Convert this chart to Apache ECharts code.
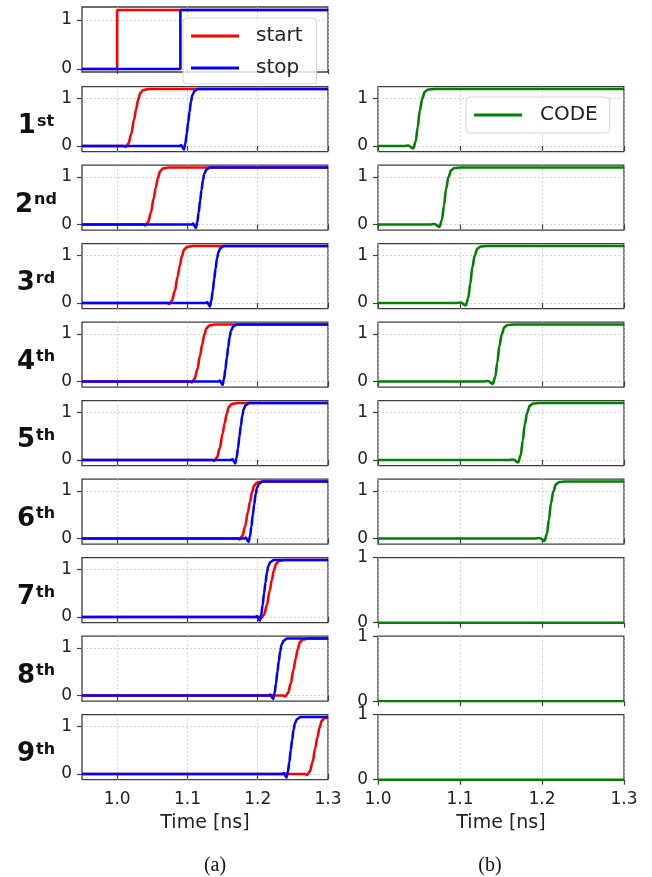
<!DOCTYPE html>
<html>
<head>
<meta charset="utf-8">
<title>Start / stop / CODE waveforms</title>
<script src="https://cdn.jsdelivr.net/npm/echarts@6/dist/echarts.min.js"></script>
<style>
  html, body { margin: 0; padding: 0; background: #fff; }
  #chart { width: 652px; height: 877px; }
</style>
</head>
<body>
<div id="chart"></div>
<script>
// ---- series names and tick labels ----
const startName = 'start';
const stopName = 'stop';
const codeName = 'CODE';
const timeTicks = [1.0, 1.1, 1.2, 1.3];
const levelTicks = [0, 1];
const rowLabels = [['1', 'st'], ['2', 'nd'], ['3', 'rd'], ['4', 'th'], ['5', 'th'],
                   ['6', 'th'], ['7', 'th'], ['8', 'th'], ['9', 'th']];
const xTitle = 'Time [ns]';
const panelTags = ['(a)', '(b)'];

// ---- trigger inputs (top panel), [time ns, V] ----
const triggerStart = [[0.95, 0], [1.0, 0], [1.0, 1.2], [1.3, 1.2]];
const triggerStop = [[0.95, 0], [1.09, 0], [1.09, 1.2], [1.3, 1.2]];

// ---- start edge at each stage ----
const start1 = [[0.95, 0], [1.009, 0], [1.012, -0.02], [1.016, 0.05], [1.020, 0.25], [1.024, 0.55], [1.027, 0.78], [1.030, 0.98], [1.033, 1.12], [1.037, 1.18], [1.045, 1.2], [1.3, 1.2]];
const start2 = [[0.95, 0], [1.037, 0], [1.040, -0.02], [1.044, 0.05], [1.048, 0.25], [1.052, 0.55], [1.055, 0.78], [1.058, 0.98], [1.061, 1.12], [1.065, 1.18], [1.073, 1.2], [1.3, 1.2]];
const start3 = [[0.95, 0], [1.071, 0], [1.074, -0.02], [1.078, 0.05], [1.082, 0.25], [1.086, 0.55], [1.089, 0.78], [1.092, 0.98], [1.095, 1.12], [1.099, 1.18], [1.107, 1.2], [1.3, 1.2]];
const start4 = [[0.95, 0], [1.103, 0], [1.106, -0.02], [1.110, 0.05], [1.114, 0.25], [1.118, 0.55], [1.121, 0.78], [1.124, 0.98], [1.127, 1.12], [1.131, 1.18], [1.139, 1.2], [1.3, 1.2]];
const start5 = [[0.95, 0], [1.135, 0], [1.138, -0.02], [1.142, 0.05], [1.146, 0.25], [1.150, 0.55], [1.153, 0.78], [1.156, 0.98], [1.159, 1.12], [1.163, 1.18], [1.171, 1.2], [1.3, 1.2]];
const start6 = [[0.95, 0], [1.171, 0], [1.174, -0.02], [1.178, 0.05], [1.182, 0.25], [1.186, 0.55], [1.189, 0.78], [1.192, 0.98], [1.195, 1.12], [1.199, 1.18], [1.207, 1.2], [1.3, 1.2]];
const start7 = [[0.95, 0], [1.202, 0], [1.205, -0.02], [1.209, 0.05], [1.213, 0.25], [1.217, 0.55], [1.220, 0.78], [1.223, 0.98], [1.226, 1.12], [1.230, 1.18], [1.238, 1.2], [1.3, 1.2]];
const start8 = [[0.95, 0], [1.236, 0], [1.239, -0.02], [1.243, 0.05], [1.247, 0.25], [1.251, 0.55], [1.254, 0.78], [1.257, 0.98], [1.260, 1.12], [1.264, 1.18], [1.272, 1.2], [1.3, 1.2]];
const start9 = [[0.95, 0], [1.267, 0], [1.270, -0.02], [1.274, 0.05], [1.278, 0.25], [1.282, 0.55], [1.285, 0.78], [1.288, 0.98], [1.291, 1.12], [1.295, 1.18], [1.3, 1.19]];

// ---- stop edge at each stage ----
const stop1 = [[0.95, 0], [1.089, 0], [1.091, 0.02], [1.095, -0.07], [1.097, 0.05], [1.099, 0.25], [1.101, 0.5], [1.103, 0.72], [1.105, 0.93], [1.107, 1.07], [1.110, 1.16], [1.115, 1.2], [1.3, 1.2]];
const stop2 = [[0.95, 0], [1.106, 0], [1.108, 0.02], [1.112, -0.07], [1.114, 0.05], [1.116, 0.25], [1.118, 0.5], [1.120, 0.72], [1.122, 0.93], [1.124, 1.07], [1.127, 1.16], [1.132, 1.2], [1.3, 1.2]];
const stop3 = [[0.95, 0], [1.126, 0], [1.128, 0.02], [1.132, -0.07], [1.134, 0.05], [1.136, 0.25], [1.138, 0.5], [1.140, 0.72], [1.142, 0.93], [1.144, 1.07], [1.147, 1.16], [1.152, 1.2], [1.3, 1.2]];
const stop4 = [[0.95, 0], [1.144, 0], [1.146, 0.02], [1.150, -0.07], [1.152, 0.05], [1.154, 0.25], [1.156, 0.5], [1.158, 0.72], [1.160, 0.93], [1.162, 1.07], [1.165, 1.16], [1.170, 1.2], [1.3, 1.2]];
const stop5 = [[0.95, 0], [1.162, 0], [1.164, 0.02], [1.168, -0.07], [1.170, 0.05], [1.172, 0.25], [1.174, 0.5], [1.176, 0.72], [1.178, 0.93], [1.180, 1.07], [1.183, 1.16], [1.188, 1.2], [1.3, 1.2]];
const stop6 = [[0.95, 0], [1.181, 0], [1.183, 0.02], [1.187, -0.07], [1.189, 0.05], [1.191, 0.25], [1.193, 0.5], [1.195, 0.72], [1.197, 0.93], [1.199, 1.07], [1.202, 1.16], [1.207, 1.2], [1.3, 1.2]];
const stop7 = [[0.95, 0], [1.197, 0], [1.199, 0.02], [1.203, -0.07], [1.205, 0.05], [1.207, 0.25], [1.209, 0.5], [1.211, 0.72], [1.213, 0.93], [1.215, 1.07], [1.218, 1.16], [1.223, 1.2], [1.3, 1.2]];
const stop8 = [[0.95, 0], [1.216, 0], [1.218, 0.02], [1.222, -0.07], [1.224, 0.05], [1.226, 0.25], [1.228, 0.5], [1.230, 0.72], [1.232, 0.93], [1.234, 1.07], [1.237, 1.16], [1.242, 1.2], [1.3, 1.2]];
const stop9 = [[0.95, 0], [1.235, 0], [1.237, 0.02], [1.241, -0.07], [1.243, 0.05], [1.245, 0.25], [1.247, 0.5], [1.249, 0.72], [1.251, 0.93], [1.253, 1.07], [1.256, 1.16], [1.261, 1.2], [1.3, 1.2]];

// ---- CODE output at each stage ----
const code1 = [[1.0, 0], [1.031, 0], [1.037, 0.01], [1.043, -0.05], [1.046, 0.1], [1.0485, 0.4], [1.051, 0.75], [1.054, 1.0], [1.057, 1.14], [1.061, 1.19], [1.069, 1.2], [1.3, 1.2]];
const code2 = [[1.0, 0], [1.063, 0], [1.069, 0.01], [1.075, -0.05], [1.078, 0.1], [1.0805, 0.4], [1.083, 0.75], [1.086, 1.0], [1.089, 1.14], [1.093, 1.19], [1.101, 1.2], [1.3, 1.2]];
const code3 = [[1.0, 0], [1.095, 0], [1.101, 0.01], [1.107, -0.05], [1.110, 0.1], [1.1125, 0.4], [1.115, 0.75], [1.118, 1.0], [1.121, 1.14], [1.125, 1.19], [1.133, 1.2], [1.3, 1.2]];
const code4 = [[1.0, 0], [1.128, 0], [1.134, 0.01], [1.140, -0.05], [1.143, 0.1], [1.1455, 0.4], [1.148, 0.75], [1.151, 1.0], [1.154, 1.14], [1.158, 1.19], [1.166, 1.2], [1.3, 1.2]];
const code5 = [[1.0, 0], [1.159, 0], [1.165, 0.01], [1.171, -0.05], [1.174, 0.1], [1.1765, 0.4], [1.179, 0.75], [1.182, 1.0], [1.185, 1.14], [1.189, 1.19], [1.197, 1.2], [1.3, 1.2]];
const code6 = [[1.0, 0], [1.191, 0], [1.197, 0.01], [1.203, -0.05], [1.206, 0.1], [1.2085, 0.4], [1.211, 0.75], [1.214, 1.0], [1.217, 1.14], [1.221, 1.19], [1.229, 1.2], [1.3, 1.2]];
const code7 = [[1.0, 0], [1.3, 0]];
const code8 = [[1.0, 0], [1.3, 0]];
const code9 = [[1.0, 0], [1.3, 0]];

const startRows = [start1, start2, start3, start4, start5, start6, start7, start8, start9];
const stopRows = [stop1, stop2, stop3, stop4, stop5, stop6, stop7, stop8, stop9];
const codeRows = [code1, code2, code3, code4, code5, code6, code7, code8, code9];

// ---- layout ----
const RED = '#ff0000', BLUE = '#0000ff', GREEN = '#008000';
const INK = '#222222', FRAME = '#3c3c3c', GRIDLINE = '#c9c9c9';
const SANS = 'DejaVu Sans';
const leftX = 82, rightX = 378, panelW = 246, panelH = 65;
const triggerTop = 7;
const rowTops = [86.7, 165.2, 243.7, 322.2, 400.7, 479.2, 557.7, 636.2, 714.7];

const grids = [], xAxes = [], yAxes = [], series = [];

// one framed panel; horizontal gridlines are omitted where they would sit on the frame
function addPanel(left, top, xMin, yMin, yMax, showXLabels) {
  const idx = grids.length;
  grids.push({
    left: left, top: top, width: panelW, height: panelH,
    show: true, borderColor: FRAME, borderWidth: 1.3,
    backgroundColor: 'transparent', containLabel: false, outerBoundsMode: 'none'
  });
  xAxes.push({
    type: 'value', gridIndex: idx, min: xMin, max: 1.3,
    axisLine: { show: false },
    axisTick: { show: true, inside: false, length: 5, customValues: timeTicks,
                lineStyle: { color: FRAME, width: 1.2 } },
    axisLabel: { show: showXLabels, customValues: timeTicks, margin: 11,
                 formatter: v => v.toFixed(1), fontFamily: SANS, fontSize: 17, color: INK },
    splitLine: { show: true, lineStyle: { type: [2, 2], color: GRIDLINE, width: 0.8 } }
  });
  yAxes.push({
    type: 'value', gridIndex: idx, min: yMin, max: yMax,
    axisLine: { show: false },
    axisTick: { show: true, inside: false, length: 5, customValues: levelTicks,
                lineStyle: { color: FRAME, width: 1.2 } },
    axisLabel: { show: true, customValues: levelTicks, margin: 10,
                 formatter: v => String(Math.round(v)), fontFamily: SANS, fontSize: 17, color: INK },
    splitLine: { show: yMin < 0, lineStyle: { type: [2, 2], color: GRIDLINE, width: 0.8 } }
  });
  return idx;
}

function addLine(idx, name, color, data, smooth) {
  series.push({
    type: 'line', name: name, xAxisIndex: idx, yAxisIndex: idx,
    data: data, color: color, showSymbol: false, symbol: 'none',
    smooth: smooth ? 0.35 : false, smoothMonotone: 'x', clip: true,
    lineStyle: { color: color, width: 2.6 }, animation: false
  });
}

// trigger panel
const t0 = addPanel(leftX, triggerTop, 0.95, -0.06, 1.26, false);
addLine(t0, startName, RED, triggerStart, false);
addLine(t0, stopName, BLUE, triggerStop, false);

// stage rows: start/stop on the left, CODE on the right
for (let i = 0; i < 9; i++) {
  const last = i === 8;
  const li = addPanel(leftX, rowTops[i], 0.95, -0.12, 1.25, last);
  addLine(li, startName, RED, startRows[i], true);
  addLine(li, stopName, BLUE, stopRows[i], true);
  const flat = i >= 6;
  const ri = addPanel(rightX, rowTops[i], 1.0, flat ? 0 : -0.12, flat ? 1 : 1.25, last);
  addLine(ri, codeName, GREEN, codeRows[i], true);
}

// stage labels (digit + raised ordinal suffix), axis titles and panel tags
const graphics = [];
rowLabels.forEach((lab, i) => {
  graphics.push({
    type: 'text', x: 36, y: rowTops[i] + 40, z: 10,
    style: {
      text: '{b|' + lab[0] + '}{s|' + lab[1] + '}',
      align: 'center', verticalAlign: 'middle',
      rich: {
        b: { fontFamily: SANS, fontWeight: 'bold', fontSize: 26, lineHeight: 26, fill: '#111' },
        s: { fontFamily: SANS, fontWeight: 'bold', fontSize: 16, lineHeight: 8,
             verticalAlign: 'top', padding: [0, 0, 0, 1], fill: '#111' }
      }
    }
  });
});
graphics.push({ type: 'text', x: leftX + panelW / 2, y: 823, style: {
  text: xTitle, font: '19px "DejaVu Sans"', fill: INK, align: 'center', verticalAlign: 'middle' } });
graphics.push({ type: 'text', x: rightX + panelW / 2, y: 823, style: {
  text: xTitle, font: '19px "DejaVu Sans"', fill: INK, align: 'center', verticalAlign: 'middle' } });
graphics.push({ type: 'text', x: 215, y: 866, style: {
  text: panelTags[0], font: '20px "Liberation Serif"', fill: '#111', align: 'center', verticalAlign: 'middle' } });
graphics.push({ type: 'text', x: 490, y: 866, style: {
  text: panelTags[1], font: '20px "Liberation Serif"', fill: '#111', align: 'center', verticalAlign: 'middle' } });

const legendBase = {
  orient: 'vertical', icon: 'rect', itemWidth: 48, itemHeight: 3,
  selectedMode: false, backgroundColor: 'rgba(255,255,255,0.8)',
  borderColor: '#d4d4d4', borderWidth: 1, borderRadius: 4, z: 20,
  textStyle: { fontFamily: SANS, fontSize: 20, lineHeight: 22, color: INK, padding: [0, 0, 0, 12] }
};

const option = {
  backgroundColor: '#ffffff',
  animation: false,
  grid: grids,
  xAxis: xAxes,
  yAxis: yAxes,
  series: series,
  legend: [
    Object.assign({}, legendBase, { data: [startName, stopName], left: 183, top: 18,
      itemGap: 10, padding: [7, 14, 5, 8] }),
    Object.assign({}, legendBase, { data: [codeName], left: 466, top: 97,
      padding: [7, 12, 7, 8], textStyle: Object.assign({}, legendBase.textStyle, { padding: [0, 0, 0, 13] }) })
  ],
  graphic: graphics
};

const chart = echarts.init(document.getElementById('chart'), null, { renderer: 'canvas' });
chart.setOption(option);
</script>
</body>
</html>
